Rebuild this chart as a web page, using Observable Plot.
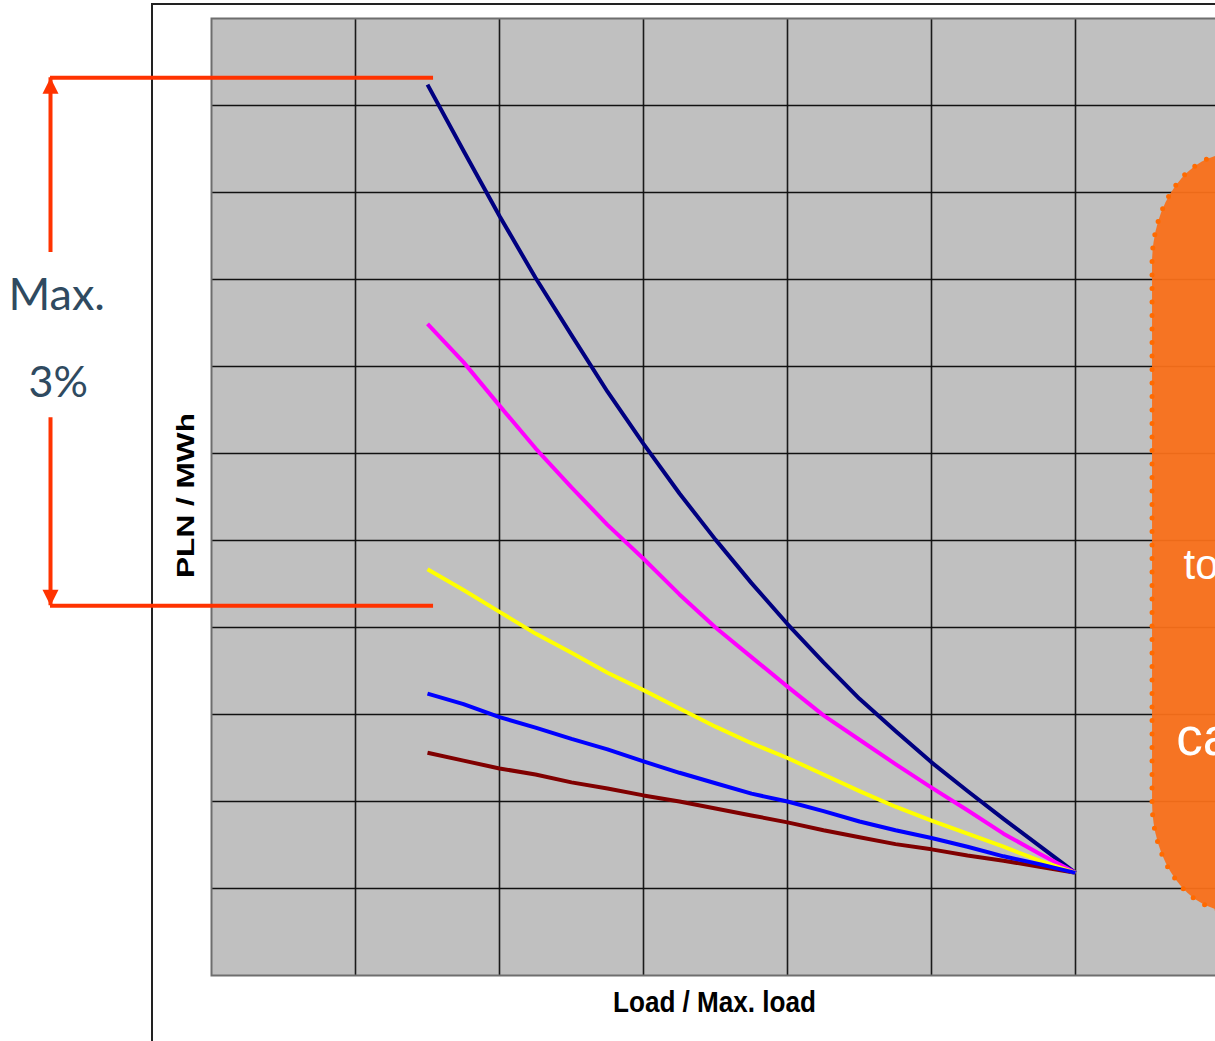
<!DOCTYPE html>
<html>
<head>
<meta charset="utf-8">
<script src="https://cdn.jsdelivr.net/npm/d3@7"></script>
<script src="https://cdn.jsdelivr.net/npm/@observablehq/plot@0.6"></script>
<style>
  html, body { margin: 0; padding: 0; background: #fff; overflow: hidden; }
  #chart { position: relative; width: 1215px; height: 1041px; overflow: hidden; }
  /* outer slide frame, drawn underneath the plot */
  #box { position: absolute; left: 151px; top: 3px; width: 2000px; height: 2000px;
         border-left: 2px solid #222; border-top: 2px solid #222; }
  #chart svg { position: absolute; left: 0; top: 0; }
</style>
</head>
<body>
<div id="chart"><div id="box"></div></div>
<script>
// Relative load, in grid steps along the x axis
const loadSteps = [1.5, 1.75, 2, 2.25, 2.5, 2.75, 3, 3.25, 3.5, 3.75, 4, 4.25, 4.5, 4.75, 5, 5.25, 5.5, 5.75, 6];

// Unit cost (PLN / MWh, in grid steps) of each curve at those loads
const navyCurve    = [10.24, 9.48, 8.73, 8.02, 7.36, 6.71, 6.11, 5.54, 5.01, 4.51, 4.04, 3.60, 3.18, 2.81, 2.45, 2.12, 1.80, 1.49, 1.18];
const magentaCurve = [7.49, 7.05, 6.55, 6.06, 5.61, 5.18, 4.79, 4.38, 4.00, 3.66, 3.32, 2.99, 2.71, 2.43, 2.16, 1.90, 1.63, 1.40, 1.18];
const yellowCurve  = [4.67, 4.43, 4.18, 3.93, 3.71, 3.48, 3.28, 3.07, 2.86, 2.67, 2.50, 2.31, 2.12, 1.94, 1.78, 1.63, 1.48, 1.32, 1.18];
const blueCurve    = [3.24, 3.12, 2.97, 2.85, 2.72, 2.60, 2.46, 2.33, 2.21, 2.09, 2.00, 1.89, 1.77, 1.67, 1.58, 1.48, 1.37, 1.28, 1.18];
const maroonCurve  = [2.56, 2.47, 2.38, 2.31, 2.22, 2.15, 2.07, 2.00, 1.92, 1.84, 1.76, 1.67, 1.59, 1.51, 1.45, 1.38, 1.32, 1.25, 1.18];

const seriesNames  = ["maroon", "navy", "magenta", "yellow", "blue"];
const seriesValues = [maroonCurve, navyCurve, magentaCurve, yellowCurve, blueCurve];
const seriesColors = ["#800000", "#000080", "#ff00ff", "#ffff00", "#0000ff"];

// Axis titles
const xTitle = "Load / Max. load";
const yTitle = "PLN / MWh";

// "Max. 3%" spread bracket: levels, bracket x and gap around the text
const spreadTop = 10.32, spreadBottom = 4.25;
const bracketX = -1.118, bracketEndX = 1.542;
const gapTop = 8.31, gapBottom = 6.41;
const spreadLabels = [
  {text: "Max.", x: -1.075, y: 7.655, size: 45},
  {text: "3%",   x: -1.065, y: 6.655, size: 43}
];

// Callout bubble on the right and its (partly visible) words
const bubble = {x1: 6.535, x2: 8.2, y1: 0.73, y2: 9.443};
const bubbleWords = [
  {text: "to", x: 6.75, y: 4.552, size: 42},
  {text: "ca", x: 6.70, y: 2.540, size: 53}
];

const rows = seriesNames.flatMap((name, i) =>
  loadSteps.map((load, j) => ({series: name, load, value: seriesValues[i][j]})));

const accent = "#ff3300";
const arrowHead = {
  draw(ctx) { ctx.moveTo(0, 0); ctx.lineTo(8, 16); ctx.lineTo(-8, 16); ctx.closePath(); }
};

const chart = Plot.plot({
  width: 1225,
  height: 1041,
  marginLeft: 211,
  marginRight: 6,
  marginTop: 18,
  marginBottom: 66,
  x: {domain: [0, 7], axis: null},
  y: {domain: [0, 11], axis: null},
  color: {domain: seriesNames, range: seriesColors},
  style: {background: "transparent", maxWidth: "none", overflow: "hidden",
          fontFamily: "'Liberation Sans', Arial, sans-serif"},
  marks: [
    Plot.frame({fill: "#c0c0c0", stroke: null}),
    Plot.gridX(d3.range(1, 7), {stroke: "#1a1a1a", strokeOpacity: 1, strokeWidth: 1.6}),
    Plot.gridY(d3.range(1, 11), {stroke: "#111", strokeOpacity: 1, strokeWidth: 1.6}),
    Plot.frame({stroke: "#6e6e6e", strokeWidth: 2}),

    // callout bubble with a dotted rim
    Plot.rect([bubble], {x1: "x1", x2: "x2", y1: "y1", y2: "y2",
      fill: "#f9701a", fillOpacity: 0.95, rx: 80, ry: 110}),
    Plot.rect([bubble], {x1: "x1", x2: "x2", y1: "y1", y2: "y2",
      fill: "none", stroke: "#ff6a00", strokeWidth: 5, strokeDasharray: "0 13.5",
      strokeLinecap: "round", rx: 80, ry: 110}),
    Plot.text(bubbleWords, {x: "x", y: "y", text: "text", fontSize: "size",
      textAnchor: "start", lineAnchor: "bottom", fill: "white",
      fontFamily: "'Liberation Sans', Arial, sans-serif"}),

    // cost curves
    Plot.line(rows, {x: "load", y: "value", z: "series", stroke: "series",
      strokeWidth: 4, strokeLinejoin: "round", strokeLinecap: "butt"}),

    // spread bracket
    Plot.ruleY([spreadTop, spreadBottom], {x1: bracketX, x2: bracketEndX, stroke: accent, strokeWidth: 4}),
    Plot.ruleX([{y1: spreadTop, y2: gapTop}, {y1: gapBottom, y2: spreadBottom}],
      {x: bracketX, y1: "y1", y2: "y2", stroke: accent, strokeWidth: 4}),
    Plot.dot([{y: spreadTop, r: 0}, {y: spreadBottom, r: 180}],
      {x: bracketX, y: "y", rotate: "r", symbol: arrowHead, fill: accent, stroke: null}),
    Plot.text(spreadLabels, {x: "x", y: "y", text: "text", fontSize: "size",
      lineAnchor: "bottom", fill: "#2f4a60", fontFamily: "Lato, 'Open Sans', sans-serif"}),

    // axis titles
    Plot.text([yTitle], {frameAnchor: "left", dx: -25, dy: 81, rotate: -90, fontSize: 23,
      textAnchor: "start", fontWeight: "bold", fill: "#000"}),
    Plot.text([xTitle], {frameAnchor: "bottom", dx: -1, dy: 36, fontSize: 30,
      fontWeight: "bold", fill: "#000"})
  ]
});

// stretch the axis titles to their drawn widths
d3.select(chart).selectAll("text")
  .filter(function () { return this.textContent === yTitle; })
  .attr("textLength", 165).attr("lengthAdjust", "spacingAndGlyphs");
d3.select(chart).selectAll("text")
  .filter(function () { return this.textContent === xTitle; })
  .attr("textLength", 203).attr("lengthAdjust", "spacingAndGlyphs");

document.getElementById("chart").appendChild(chart);
</script>
</body>
</html>
